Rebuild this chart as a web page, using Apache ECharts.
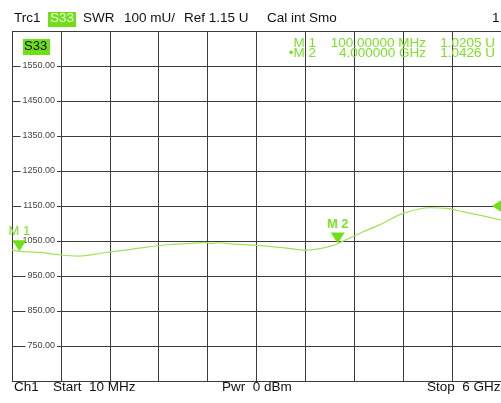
<!DOCTYPE html>
<html>
<head>
<meta charset="utf-8">
<script src="https://cdn.jsdelivr.net/npm/echarts@6/dist/echarts.min.js"></script>
<style>
html,body{margin:0;padding:0;background:#fff;}
#chart{width:501px;height:403px;}
</style>
</head>
<body>
<div id="chart"></div>
<script>
// Trace data (frequency in MHz, SWR in mU)
const freqMHz = [10, 100, 350, 600, 840, 1090, 1490, 1940, 2250, 2370, 2450, 2530, 2700, 3100, 3400, 3600, 3800, 3960, 4000, 4110, 4300, 4510, 4800, 5130, 5330, 5530, 5820, 6000];
const swr     = [1024, 1020.5, 1017.5, 1010, 1007, 1015, 1027, 1040, 1044, 1046, 1043, 1045, 1042, 1036, 1029, 1024, 1029, 1038.6, 1042.6, 1054.6, 1075, 1096, 1129, 1145, 1143, 1134, 1119.5, 1110];

// Markers
const markerNames = ['M 1', 'M 2'];
const markerFreq = [100, 4000];
const markerFreqText = ['100.00000 MHz', '4.000000 GHz'];
const markerVal = [1020.5, 1042.6];
const refLevel = 1150;

// Axes
const xMin = 10, xMax = 6000;
const yMin = 650, yMax = 1650, yStep = 100;
const yTicks = [750, 850, 950, 1050, 1150, 1250, 1350, 1450, 1550];

const green = '#7ee02a';
const gridColor = '#3c3c3c';
const font = '"Liberation Sans", Arial, sans-serif';

const chart = echarts.init(document.getElementById('chart'));

const traceData = freqMHz.map((f, i) => [f, swr[i]]);

const mpData = markerNames.map((n, i) => ({
  name: n,
  coord: [markerFreq[i], markerVal[i]],
  symbol: 'triangle',
  symbolRotate: 180,
  symbolSize: [14, 11],
  symbolOffset: [0, -5.5],
  label: { show: true, formatter: n, position: 'top', distance: 2, color: green,
           fontSize: 13, fontFamily: font, fontWeight: i === 1 ? 'bold' : 'normal' }
}));
mpData.push({
  name: 'ref',
  coord: [xMax, refLevel],
  symbol: 'triangle',
  symbolRotate: 90,
  symbolSize: [13, 10],
  symbolOffset: [-4, 0],
  label: { show: false }
});

function txt(s, left, top, size, fill, z) {
  return { type: 'text', left: left, top: top, z: z || 1, style: { text: s, font: size + 'px ' + font, fill: fill || '#111' } };
}

const graphics = [
  // header
  txt('Trc1', 14, 11, 13.5),
  { type: 'rect', shape: { x: 48, y: 12, width: 28, height: 15 }, style: { fill: '#6fe018' } },
  txt('S33', 50, 11, 13.5, '#f4ffe8', 2),
  txt('SWR', 83, 11, 13.5),
  txt('100 mU/', 124, 11, 13.5),
  txt('Ref 1.15 U', 184, 11, 13.5),
  txt('Cal int Smo', 267, 11, 13.5),
  txt('1', 492, 11, 13.5),
  // in-plot trace label
  { type: 'rect', shape: { x: 23, y: 39, width: 27, height: 16 }, style: { fill: '#6fe018' }, z: 10 },
  txt('S33', 24, 40, 13, '#111', 11),
  // footer
  txt('Ch1', 14, 380, 13.5),
  txt('Start  10 MHz', 53, 380, 13.5),
  txt('Pwr  0 dBm', 222, 380, 13.5),
  txt('Stop  6 GHz', 427, 380, 13.5)
];
// marker readout table
markerNames.forEach((n, i) => {
  const y = 43 + i * 10.5;
  const base = { fill: green, align: 'right', verticalAlign: 'middle' };
  graphics.push({ type: 'text', x: 316, y: y, z: 10, style: Object.assign({ text: (i === 1 ? '\u2022' : '') + n, font: '13.5px ' + font }, base) });
  graphics.push({ type: 'text', x: 426, y: y, z: 10, style: Object.assign({ text: markerFreqText[i], font: '13.5px ' + font }, base) });
  graphics.push({ type: 'text', x: 495, y: y, z: 10, style: Object.assign({ text: (markerVal[i] / 1000).toFixed(4) + ' U', font: '13.5px ' + font }, base) });
});

chart.setOption({
  animation: false,
  backgroundColor: '#fff',
  grid: { left: 12, right: 0, top: 31, bottom: 22, containLabel: false },
  xAxis: [
    { type: 'value', min: xMin, max: xMax, show: false },
    { type: 'value', min: 0, max: 10, interval: 1, position: 'bottom',
      axisLine: { show: false }, axisTick: { show: false }, axisLabel: { show: false },
      splitLine: { show: true, lineStyle: { color: gridColor, width: 1 } } }
  ],
  yAxis: [
    { type: 'value', min: yMin, max: yMax, show: false },
    { type: 'value', min: 0, max: 10, interval: 1, position: 'left',
      axisLine: { show: false }, axisTick: { show: false },
      splitLine: { show: true, lineStyle: { color: gridColor, width: 1 } },
      axisLabel: {
        inside: true, margin: 45, align: 'right', verticalAlign: 'middle',
        fontSize: 9, fontFamily: font, color: '#444',
        backgroundColor: '#fff', padding: [0, 2, 0, 2],
        formatter: function (v) {
          const val = yMin + v * yStep;
          return yTicks.indexOf(val) >= 0 ? val.toFixed(2) : '';
        }
      },
      z: 3
    }
  ],
  series: [{
    type: 'line',
    xAxisIndex: 0, yAxisIndex: 0,
    data: traceData,
    smooth: 0.3,
    showSymbol: false,
    lineStyle: { color: '#9fe35a', width: 1.2 },
    itemStyle: { color: green },
    markPoint: { silent: true, itemStyle: { color: '#6fe018' }, data: mpData },
    z: 5
  }],
  graphic: graphics
});
</script>
</body>
</html>
